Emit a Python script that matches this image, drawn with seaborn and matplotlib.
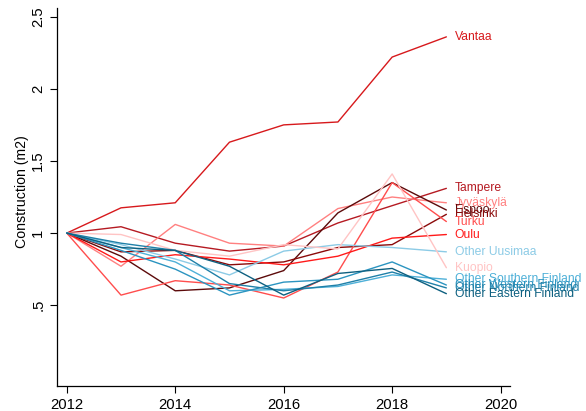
import numpy as np
import pandas as pd
import matplotlib
matplotlib.use("Agg")
import matplotlib.pyplot as plt
import seaborn as sns

years = [2012, 2013, 2014, 2015, 2016, 2017, 2018, 2019]

regions = ["Vantaa", "Tampere", "Jyväskylä", "Espoo", "Helsinki", "Turku", "Oulu",
           "Other Uusimaa", "Kuopio", "Other Southern Finland", "Other Western Finland",
           "Other Northern Finland", "Other Eastern Finland"]

vantaa = [1.0, 1.175, 1.21, 1.63, 1.75, 1.77, 2.22, 2.36]
tampere = [1.0, 1.044, 0.93, 0.875, 0.91, 1.07, 1.19, 1.31]
jyvaskyla = [1.0, 0.77, 1.06, 0.93, 0.91, 1.17, 1.25, 1.21]
espoo = [1.0, 0.84, 0.60, 0.62, 0.74, 1.14, 1.35, 1.16]
helsinki = [1.0, 0.87, 0.88, 0.78, 0.80, 0.90, 0.92, 1.13]
turku = [1.0, 0.57, 0.67, 0.64, 0.55, 0.73, 1.35, 1.08]
oulu = [1.0, 0.80, 0.85, 0.82, 0.78, 0.84, 0.965, 0.99]
other_uusimaa = [1.0, 0.92, 0.82, 0.71, 0.875, 0.92, 0.90, 0.87]
kuopio = [1.0, 0.99, 0.88, 0.84, 0.92, 0.89, 1.41, 0.76]
other_southern = [1.0, 0.90, 0.80, 0.60, 0.61, 0.63, 0.71, 0.68]
other_western = [1.0, 0.88, 0.75, 0.57, 0.66, 0.68, 0.80, 0.64]
other_northern = [1.0, 0.93, 0.88, 0.65, 0.60, 0.64, 0.73, 0.62]
other_eastern = [1.0, 0.90, 0.88, 0.77, 0.57, 0.72, 0.755, 0.58]

series = [vantaa, tampere, jyvaskyla, espoo, helsinki, turku, oulu,
          other_uusimaa, kuopio, other_southern, other_western, other_northern, other_eastern]

colors = ["#d7191c", "#b51a22", "#ff8080", "#5c0a0a", "#8b0a0a", "#ff4d4d", "#ff1a1a",
          "#8ccbe6", "#ffc4c4", "#4eb0d8", "#2b94c0", "#1f80a8", "#0e6080"]

yticks = [0.5, 1, 1.5, 2, 2.5]
ytick_labels = [".5", "1", "1.5", "2", "2.5"]
xticks = [2012, 2014, 2016, 2018, 2020]

rows = []
for name, vals in zip(regions, series):
    for yr, v in zip(years, vals):
        rows.append({"year": yr, "value": v, "region": name})
df = pd.DataFrame(rows)
palette = dict(zip(regions, colors))

sns.set_style("ticks")
plt.rcParams["font.family"] = ["Liberation Sans", "DejaVu Sans"]

fig = plt.figure(figsize=(5.86, 4.11), dpi=100)
ax = fig.add_axes([0.0973, 0.0608, 0.7727, 0.9197])

sns.lineplot(data=df, x="year", y="value", hue="region", hue_order=regions,
             palette=palette, linewidth=1.0, legend=False, ax=ax, estimator=None)

for name, vals in zip(regions, series):
    ax.text(years[-1] + 0.15, vals[-1], name, color=palette[name], fontsize=8.7,
            va="center", ha="left")

ax.set_xlim(2011.82, 2020.17)
ax.set_ylim(-0.06, 2.56)
ax.set_xticks(xticks)
ax.set_yticks(yticks)
ax.set_yticklabels(ytick_labels, rotation=90, va="center")
ax.tick_params(axis="both", labelsize=10.7, length=5, width=0.8, color="black", labelcolor="black")
ax.set_xlabel("")
ax.set_ylabel("Construction (m2)", fontsize=10.2, color="black")
ax.yaxis.set_label_coords(-0.062, 0.514)
for s in ["top", "right"]:
    ax.spines[s].set_visible(False)
for s in ["left", "bottom"]:
    ax.spines[s].set_color("black")
    ax.spines[s].set_linewidth(0.9)

fig.savefig("out.png", dpi=100)
